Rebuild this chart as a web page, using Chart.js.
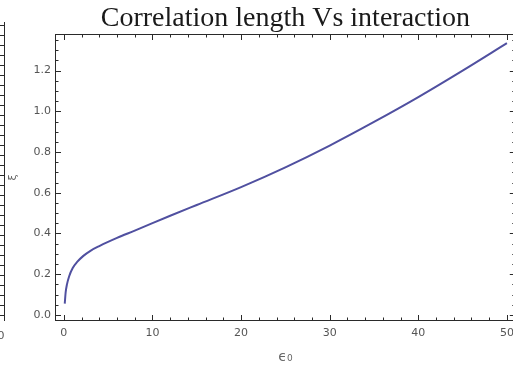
<!DOCTYPE html>
<html>
<head>
<meta charset="utf-8">
<script src="https://cdn.jsdelivr.net/npm/chart.js@4/dist/chart.umd.min.js"></script>
<style>
html,body{margin:0;padding:0;overflow:hidden;background:#fff}
#wrap{width:520px;height:371px}
</style>
</head>
<body>
<div id="wrap"><canvas id="chart" width="520" height="371"></canvas></div>
<script>
// values
const eps0 = [0.1, 0.2, 0.35, 0.6, 1, 1.5, 2.2, 3, 4, 6, 8, 10, 12, 15, 20, 25, 30, 35, 40, 45, 50];
const xi   = [0.055, 0.11, 0.15, 0.19, 0.23, 0.26, 0.29, 0.315, 0.338, 0.378, 0.414, 0.451, 0.487, 0.54, 0.628, 0.725, 0.832, 0.948, 1.07, 1.2, 1.335];
const xTicks = [0, 10, 20, 30, 40, 50];
const yTicks = [0, 0.2, 0.4, 0.6, 0.8, 1.0, 1.2];
const titleText = 'Correlation length Vs interaction';
const xLabel = 'ϵ₀';
const yLabel = 'ξ';

function el(sel){ return document.querySelector(sel); }
const FRAME = '#2a2a2a';
const TICKCOL = '#555';

// Mathematica-style frame: box + inward major/minor ticks on all four sides
const frameTicks = {
  id: 'frameTicks',
  afterDatasetsDraw(chart){
    const {ctx, chartArea: a, scales: {x, y}} = chart;
    ctx.save();
    ctx.strokeStyle = FRAME; ctx.lineWidth = 1;
    ctx.strokeRect(a.left + 0.5, a.top + 0.5, a.right - a.left - 1, a.bottom - a.top - 1);
    ctx.beginPath();
    for (let v = 0; v <= x.max + 1e-9; v += 2){
      const px = Math.round(x.getPixelForValue(v)) + 0.5;
      const len = xTicks.includes(v) ? 6 : 3.5;
      ctx.moveTo(px, a.bottom); ctx.lineTo(px, a.bottom - len);
      ctx.moveTo(px, a.top); ctx.lineTo(px, a.top + len);
    }
    for (let i = 0; i * 0.05 <= y.max + 1e-9; i++){
      const py = Math.round(y.getPixelForValue(i * 0.05)) + 0.5;
      const len = i % 4 === 0 ? 6 : 3.5;
      ctx.moveTo(a.left, py); ctx.lineTo(a.left + len, py);
      ctx.moveTo(a.right, py); ctx.lineTo(a.right - len, py);
    }
    ctx.stroke();
    ctx.restore();
  }
};

// edge of the neighbouring plot that shows at the left border of the screenshot
const leftEdge = {
  id: 'leftEdge',
  afterDraw(chart){
    const {ctx, chartArea: a} = chart;
    ctx.save();
    ctx.strokeStyle = FRAME; ctx.lineWidth = 1;
    ctx.beginPath();
    ctx.moveTo(4.5, 22); ctx.lineTo(4.5, a.bottom);
    for (let py = a.bottom - 6; py > 24; py -= 10){
      ctx.moveTo(0, py + 0.5); ctx.lineTo(4.5, py + 0.5);
    }
    ctx.stroke();
    ctx.fillStyle = TICKCOL;
    ctx.font = '11px "DejaVu Sans"';
    ctx.textAlign = 'center'; ctx.textBaseline = 'middle';
    ctx.fillText('0', 1, 336);
    ctx.restore();
  }
};

const points = eps0.map((v, i) => ({x: v, y: xi[i]}));

new Chart(el('#chart').getContext('2d'), {
  type: 'line',
  data: { datasets: [{ data: points, borderColor: '#5050a0', borderWidth: 2, pointRadius: 0, cubicInterpolationMode: 'monotone', fill: false }] },
  options: {
    responsive: false,
    animation: false,
    devicePixelRatio: 1,
    layout: { padding: { left: 5, right: 2.5, top: 0, bottom: 0 } },
    plugins: {
      legend: { display: false },
      tooltip: { enabled: false },
      title: {
        display: true, text: titleText, fullSize: false, color: '#1a1a1a',
        font: { family: '"Liberation Serif", "Times New Roman", serif', size: 28, weight: 'normal', lineHeight: 1 },
        padding: { top: 5, bottom: 1 }
      }
    },
    scales: {
      x: {
        type: 'linear', min: -1, max: 51,
        grid: { display: false, drawTicks: false },
        border: { display: false },
        afterBuildTicks: s => { s.ticks = xTicks.map(v => ({value: v})); },
        afterFit: s => { s.height = 50; },
        ticks: { padding: 6, color: TICKCOL, font: { family: '"DejaVu Sans"', size: 11 }, maxRotation: 0, callback: v => String(v) },
        title: { display: true, text: xLabel, color: '#666', font: { family: '"DejaVu Sans"', size: 14 }, padding: { top: 0, bottom: 5 } }
      },
      y: {
        type: 'linear', min: -0.03, max: 1.38,
        grid: { display: false, drawTicks: false },
        border: { display: false },
        afterBuildTicks: s => { s.ticks = yTicks.map(v => ({value: v})); },
        afterFit: s => { s.width = 50; },
        ticks: { padding: 4, color: TICKCOL, font: { family: '"DejaVu Sans"', size: 11 }, callback: v => Number(v).toFixed(1) },
        title: { display: true, text: yLabel, color: '#666', font: { family: '"DejaVu Sans"', size: 11 }, padding: { top: 1.5, bottom: 0 } }
      }
    }
  },
  plugins: [frameTicks, leftEdge]
});
</script>
</body>
</html>
